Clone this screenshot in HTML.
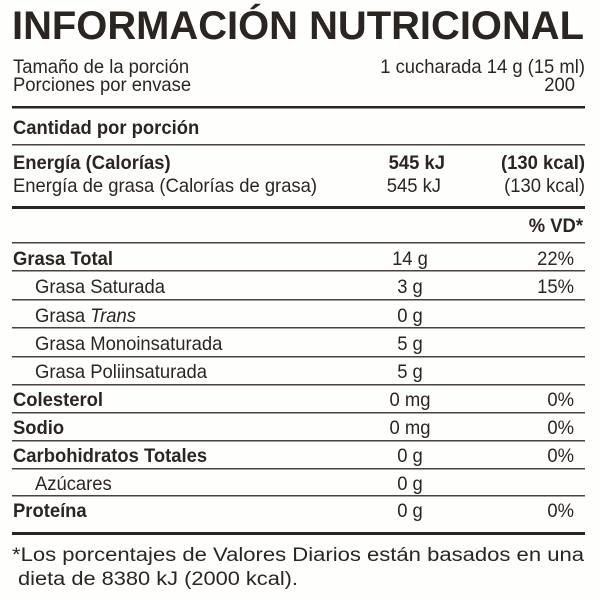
<!DOCTYPE html>
<html><head><meta charset="utf-8"><style>
html,body{margin:0;padding:0;background:#fff;}
svg{display:block;}
text{font-family:"Liberation Sans",sans-serif;fill:#2b2522;}
.b{font-weight:bold;}
.s{transform-box:fill-box;transform:scaleX(.97);transform-origin:0 50%;}
.e{transform-box:fill-box;transform:scaleX(.97);transform-origin:100% 50%;}
.m{transform-box:fill-box;transform:scaleX(.97);transform-origin:50% 50%;}
</style></head><body>
<svg width="600" height="600" viewBox="0 0 600 600">
<rect width="600" height="600" fill="#fefefc"/>
<text x="12" y="39" class="b" font-size="40" textLength="572" lengthAdjust="spacingAndGlyphs" fill="#2a2420">INFORMACIÓN NUTRICIONAL</text>
<g font-size="19">
<text x="13" y="73" class="s">Tamaño de la porción</text>
<text x="585" y="73" text-anchor="end" class="e">1 cucharada 14 g (15 ml)</text>
<text x="13" y="91" class="s">Porciones por envase</text>
<text x="575" y="91" text-anchor="end" fill="#888" class="e">200</text>
</g>
<rect x="12" y="106" width="573" height="2.5" fill="#2a2420"/>
<text x="13" y="134" font-size="19" class="b s" fill="#6a5f58">Cantidad <tspan fill="#2a2420">por porción</tspan></text>
<rect x="12" y="144" width="573" height="1.5" fill="#4a423d"/>
<g font-size="19">
<text x="13" y="169" class="b s">Energía (Calorías)</text>
<text x="445" y="169" class="b e" text-anchor="end">545 kJ</text>
<text x="585" y="169" class="b e" text-anchor="end">(130 kcal)</text>
<text x="13" y="192" class="s">Energía de grasa (Calorías de grasa)</text>
<text x="441" y="192" text-anchor="end" class="e">545 kJ</text>
<text x="585" y="192" text-anchor="end" class="e">(130 kcal)</text>
</g>
<rect x="12" y="206" width="573" height="3" fill="#2a2420"/>
<text x="583" y="232" font-size="19" class="b e" text-anchor="end">% VD*</text>
<g fill="#4a423d">
<rect x="12" y="242" width="573" height="1.5"/>
<rect x="12" y="270" width="573" height="1.5"/>
<rect x="12" y="299" width="573" height="1.5"/>
<rect x="12" y="327" width="573" height="1.5"/>
<rect x="12" y="356" width="573" height="1.5"/>
<rect x="12" y="384" width="573" height="1.5"/>
<rect x="12" y="412" width="573" height="1.5"/>
<rect x="12" y="440" width="573" height="1.5"/>
<rect x="12" y="468" width="573" height="1.5"/>
<rect x="12" y="495" width="573" height="1.5"/>
</g>
<rect x="12" y="532" width="573" height="3" fill="#2a2420"/>
<g font-size="19">
<text x="13" y="265" class="b s">Grasa Total</text><text x="410" y="265" text-anchor="middle" class="m">14 g</text><text x="574" y="265" text-anchor="end" class="e">22%</text>
<text x="35" y="293" class="s">Grasa Saturada</text><text x="410" y="293" text-anchor="middle" class="m">3 g</text><text x="574" y="293" text-anchor="end" class="e">15%</text>
<text x="35" y="322" fill="#5a524d" class="s">Grasa <tspan font-style="italic">Trans</tspan></text><text x="410" y="322" text-anchor="middle" class="m">0 g</text>
<text x="35" y="350" class="s">Grasa Monoinsaturada</text><text x="410" y="350" text-anchor="middle" class="m">5 g</text>
<text x="35" y="378" class="s">Grasa Poliinsaturada</text><text x="410" y="378" text-anchor="middle" class="m">5 g</text>
<text x="13" y="406" class="b s">Colesterol</text><text x="410" y="406" text-anchor="middle" class="m">0 mg</text><text x="574" y="406" text-anchor="end" class="e">0%</text>
<text x="13" y="434" class="b s">Sodio</text><text x="410" y="434" text-anchor="middle" class="m">0 mg</text><text x="574" y="434" text-anchor="end" class="e">0%</text>
<text x="13" y="462" class="b s">Carbohidratos Totales</text><text x="410" y="462" text-anchor="middle" class="m">0 g</text><text x="574" y="462" text-anchor="end" class="e">0%</text>
<text x="35" y="490" fill="#5a524d" class="s">Azúcares</text><text x="410" y="490" text-anchor="middle" class="m">0 g</text>
<text x="13" y="517" class="b s">Proteína</text><text x="410" y="517" text-anchor="middle" class="m">0 g</text><text x="574" y="517" text-anchor="end" class="e">0%</text>
<text x="12" y="561" textLength="572" lengthAdjust="spacingAndGlyphs" font-size="19">*Los porcentajes de Valores Diarios están basados en una</text>
<text x="18" y="585" font-size="19" textLength="280" lengthAdjust="spacingAndGlyphs">dieta de 8380 kJ (2000 kcal).</text>
</g>
</svg>
</body></html>
